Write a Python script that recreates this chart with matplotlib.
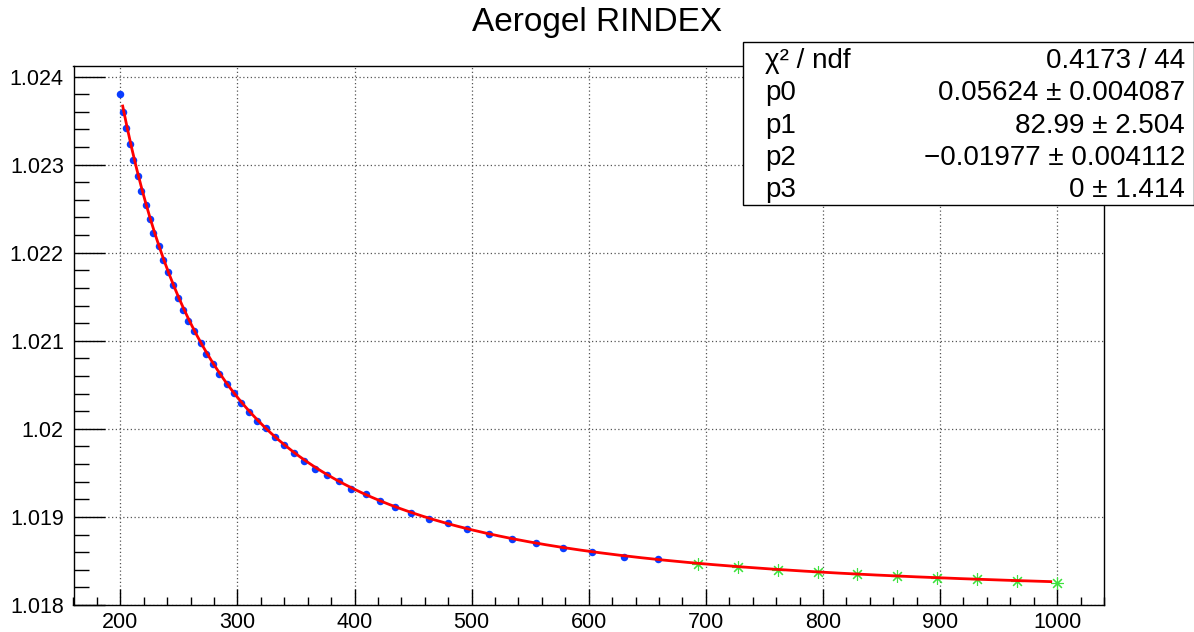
import numpy as np
import matplotlib
matplotlib.use("Agg")
import matplotlib.pyplot as plt
from matplotlib.patches import Rectangle
from matplotlib.ticker import MultipleLocator

plt.rcParams['font.family'] = ['Liberation Sans', 'DejaVu Sans']

# Measured refractive index (fitted range)
wl_fit = [200.0, 202.0, 204.9, 208.3, 211.1, 214.8, 217.9, 221.6, 225.0, 228.2,
          232.7, 236.5, 241.0, 245.0, 249.3, 253.2, 258.1, 262.9, 268.6, 273.4,
          278.8, 283.9, 290.8, 297.1, 303.1, 309.9, 317.0, 324.4, 332.3, 339.8,
          348.3, 356.8, 366.2, 376.1, 386.4, 397.2, 409.4, 421.7, 434.8, 448.5,
          463.8, 479.4, 496.3, 514.5, 534.4, 554.9, 577.6, 602.4, 630.3, 659.1]
n_fit = [1.023801, 1.023601, 1.023419, 1.023234, 1.023053, 1.022875, 1.022701,
         1.022542, 1.022383, 1.022225, 1.022071, 1.021922, 1.021779, 1.021635,
         1.021491, 1.021354, 1.021230, 1.021109, 1.020971, 1.020852, 1.020731,
         1.020625, 1.020512, 1.020402, 1.020293, 1.020194, 1.020088, 1.020005,
         1.019907, 1.019816, 1.019725, 1.019638, 1.019547, 1.019471, 1.019403,
         1.019320, 1.019256, 1.019184, 1.019113, 1.019048, 1.018980, 1.018927,
         1.018859, 1.018807, 1.018750, 1.018708, 1.018648, 1.018606, 1.018549,
         1.018518]

# Extrapolated points in the near infrared
wl_ext = [693.7, 727.1, 761.2, 795.7, 829.5, 863.4, 897.0, 931.4, 965.3, 1000.0]
n_ext = [1.018470, 1.018428, 1.018398, 1.018376, 1.018348, 1.018326,
         1.018307, 1.018292, 1.018273, 1.018254]

# Sellmeier-type fit result
par_names = ['p0', 'p1', 'p2', 'p3']
par_values = [0.05624, 82.99, -0.01977, 0.0]
par_errors = ['0.004087', '2.504', '0.004112', '1.414']
par_labels = ['0.05624', '82.99', '\u22120.01977', '0']
chi2_text = '0.4173 / 44'
fit_range = (202.0, 994.5)

x_ticks = [200, 300, 400, 500, 600, 700, 800, 900, 1000]
y_ticks = [1.018, 1.019, 1.020, 1.021, 1.022, 1.023, 1.024]
y_tick_labels = ['1.018', '1.019', '1.02', '1.021', '1.022', '1.023', '1.024']


def rindex(lam, p0, p1, p2, p3):
    return np.sqrt(1.0 + p2 + p0 * lam**2 / (lam**2 - p1**2)) + p3


fig = plt.figure(figsize=(11.94, 6.32), dpi=100)
ax = fig.add_axes([73.5 / 1194, 1 - 605 / 632, (1104 - 73.5) / 1194, (605 - 66) / 632])

ax.plot(wl_fit, n_fit, linestyle='none', marker='o', markersize=5.4,
        color='#0a3cff', markeredgewidth=0, zorder=3)
ax.plot(wl_ext, n_ext, linestyle='none', marker=(8, 2, 0), markersize=9,
        color='#3de23d', markeredgewidth=0.8, zorder=3)

lam = np.linspace(fit_range[0], fit_range[1], 400)
ax.plot(lam, rindex(lam, *par_values), color='#ff0000', lw=2.0, zorder=4)

ax.set_xlim(160, 1040)
ax.set_ylim(1.018, 1.02412)
ax.set_xticks(x_ticks)
ax.set_xticklabels([str(v) for v in x_ticks])
ax.set_yticks(y_ticks)
ax.set_yticklabels(y_tick_labels)
ax.xaxis.set_minor_locator(MultipleLocator(20))
ax.yaxis.set_minor_locator(MultipleLocator(0.0002))

ax.tick_params(axis='x', which='major', direction='in', length=11.5, width=1,
               labelsize=15.5, pad=5)
ax.tick_params(axis='x', which='minor', direction='in', length=5.8, width=1)
ax.tick_params(axis='y', which='major', direction='in', length=22.5, width=1,
               labelsize=15.5, pad=7)
ax.tick_params(axis='y', which='minor', direction='in', length=11, width=1)

ax.grid(True, which='major', linestyle=(0, (1, 2)), color='#555555', lw=0.9)
ax.set_axisbelow(True)
for sp in ax.spines.values():
    sp.set_linewidth(1.0)
    sp.set_color('black')

fig.text(0.5, 1 - 22 / 632, 'Aerogel RINDEX', ha='center', va='center', fontsize=24)

# Fit statistics box
bx0, bx1 = 743 / 1194, 1193.5 / 1194
by0, by1 = 1 - 205 / 632, 1 - 42 / 632
fig.patches.append(Rectangle((bx0, by0), bx1 - bx0, by1 - by0, transform=fig.transFigure,
                             facecolor='white', edgecolor='black', lw=1.0, zorder=10))
rows_left = ['\u03c7\u00b2 / ndf'] + par_names
rows_right = [chi2_text] + [f'{v} \u00b1 {e}' for v, e in zip(par_labels, par_errors)]
for i, (lt, rt) in enumerate(zip(rows_left, rows_right)):
    yc = 1 - (61 + 32.25 * i) / 632
    fig.text(765 / 1194, yc, lt, ha='left', va='center', fontsize=20, zorder=11)
    fig.text(1185 / 1194, yc, rt, ha='right', va='center', fontsize=20, zorder=11)

fig.savefig('out.png', dpi=100)
